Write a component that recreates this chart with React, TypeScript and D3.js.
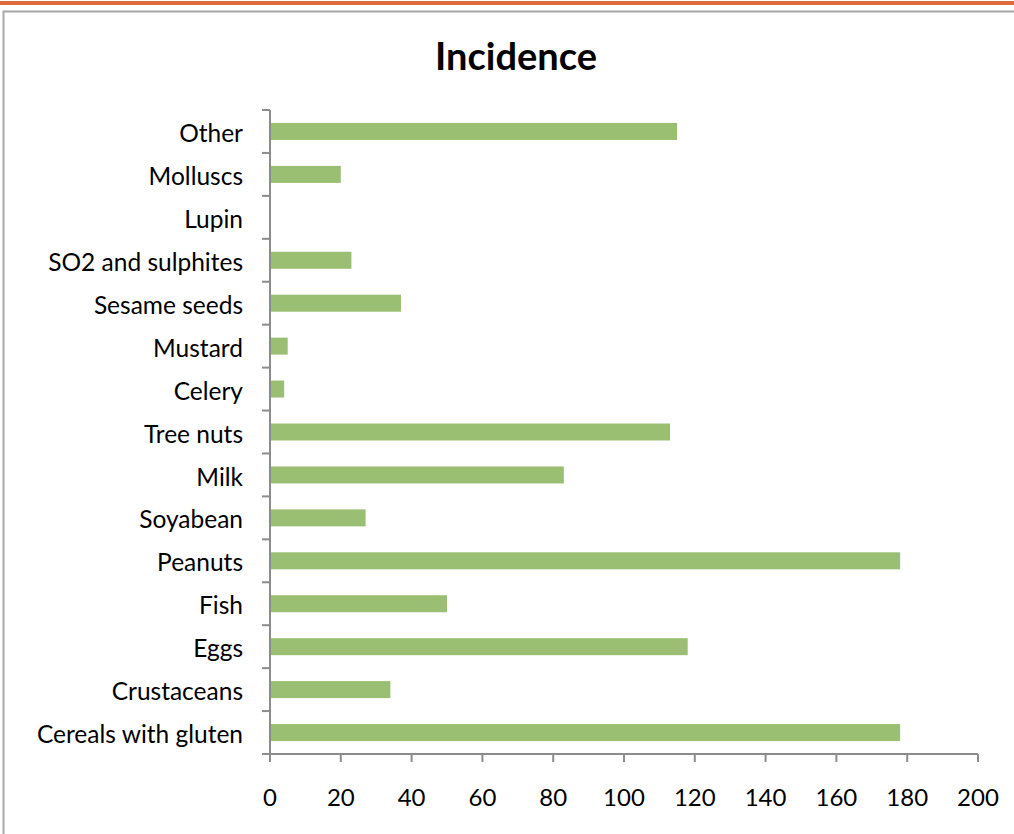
import React from "react";
import * as d3 from "d3";

const categories = [
  "Other",
  "Molluscs",
  "Lupin",
  "SO2 and sulphites",
  "Sesame seeds",
  "Mustard",
  "Celery",
  "Tree nuts",
  "Milk",
  "Soyabean",
  "Peanuts",
  "Fish",
  "Eggs",
  "Crustaceans",
  "Cereals with gluten",
];
const incidence = [115, 20, 0, 23, 37, 5, 4, 113, 83, 27, 178, 50, 118, 34, 178];
const xTicks = [0, 20, 40, 60, 80, 100, 120, 140, 160, 180, 200];

const W = 1014;
const H = 834;
const plot = { left: 270, right: 978, top: 110, bottom: 754 };
const font = "Lato, 'Open Sans', sans-serif";
const axisColor = "#8c8c8c";

export default function App() {
  const x = d3.scaleLinear().domain([0, 200]).range([plot.left, plot.right]);
  const band = d3
    .scaleBand<string>()
    .domain(categories)
    .range([plot.top, plot.bottom]);
  const barH = 17;

  return (
    <svg
      width={W}
      height={H}
      style={{ position: "fixed", left: 0, top: 0, display: "block", background: "#fff" }}
    >
      {/* page header rule and chart frame */}
      <rect x={0} y={1} width={W} height={4} fill="#e0693a" />
      <rect x={3.5} y={11.5} width={W + 10} height={H} fill="#fff" stroke="#a8a8a8" strokeWidth={2} />

      <text
        x={516}
        y={57}
        dy="0.35em"
        textAnchor="middle"
        fontFamily={font}
        fontWeight="bold"
        fontSize={38}
        fill="#000"
      >
        Incidence
      </text>

      {/* bars */}
      {categories.map((c, i) => {
        const cy = band(c)! + band.bandwidth() / 2;
        return (
          <rect
            key={c}
            x={x(0)}
            y={cy - barH / 2}
            width={x(incidence[i]) - x(0)}
            height={barH}
            fill="#9bbf72"
          />
        );
      })}

      {/* category axis */}
      <line x1={plot.left} x2={plot.left} y1={plot.top} y2={plot.bottom} stroke={axisColor} strokeWidth={2} />
      {d3.range(categories.length + 1).map((k) => {
        const ty = plot.top + k * band.step();
        return (
          <line key={k} x1={plot.left - 8} x2={plot.left} y1={ty} y2={ty} stroke={axisColor} strokeWidth={2} />
        );
      })}
      {categories.map((c) => (
        <text
          key={c}
          x={243}
          y={band(c)! + band.bandwidth() / 2 + 2}
          dy="0.35em"
          textAnchor="end"
          fontFamily={font}
          fontSize={24.5}
          fill="#000"
        >
          {c}
        </text>
      ))}

      {/* value axis */}
      <line x1={plot.left} x2={plot.right} y1={plot.bottom} y2={plot.bottom} stroke={axisColor} strokeWidth={2} />
      {xTicks.map((t) => (
        <g key={t}>
          <line x1={x(t)} x2={x(t)} y1={plot.bottom} y2={plot.bottom + 8} stroke={axisColor} strokeWidth={2} />
          <text
            x={x(t)}
            y={798}
            dy="0.35em"
            textAnchor="middle"
            fontFamily={font}
            fontSize={24}
            fill="#000"
          >
            {t}
          </text>
        </g>
      ))}
    </svg>
  );
}
